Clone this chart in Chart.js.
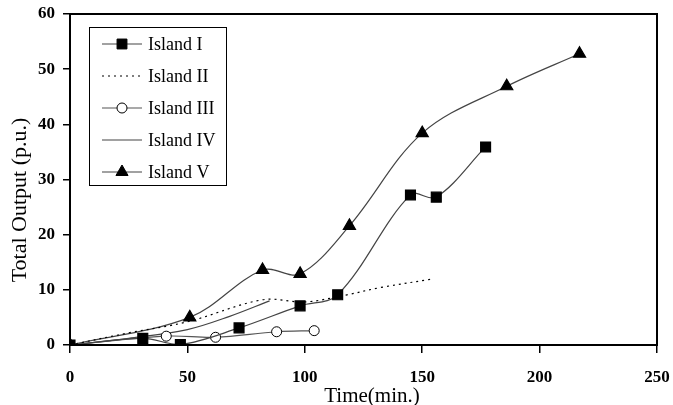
<!DOCTYPE html>
<html lang="en">
<head>
    <meta charset="UTF-8">
    <title>Total Output by Island</title>
    <script src="https://cdn.jsdelivr.net/npm/chart.js"></script>
    <style>
        body { margin: 0; background: #fff; }
        #wrap { width: 673px; height: 405px; }
    </style>
</head>
<body>
    <div id="wrap"><canvas id="myChart"></canvas></div>

    <script>
        // values (time in min., output in p.u.)
        const island1Time = [0, 31, 47, 72, 98, 114, 145, 156, 177];
        const island1Out  = [0, 1.2, 0.1, 3.1, 7.1, 9.1, 27.2, 26.8, 35.9];

        const island2Time = [0, 25, 50, 82, 100, 118, 132, 155];
        const island2Out  = [0, 2.2, 4.2, 8.2, 7.8, 9.1, 10.4, 12];

        const island3Time = [0, 41, 62, 88, 104];
        const island3Out  = [0, 1.6, 1.4, 2.4, 2.6];

        const island4Time = [0, 25, 50, 68, 85];
        const island4Out  = [0, 1.2, 2.8, 5.2, 8];

        const island5Time = [0, 51, 82, 98, 119, 150, 186, 217];
        const island5Out  = [0, 5, 13.6, 12.9, 21.6, 38.4, 46.9, 52.8];

        const xTicks = [0, 50, 100, 150, 200, 250];
        const yTicks = [0, 10, 20, 30, 40, 50, 60];

        const serif = "'Liberation Serif', 'Times New Roman', serif";

        function pts(xs, ys) {
            return xs.map((x, i) => ({ x: x, y: ys[i] }));
        }

        const datasets = [
            {
                label: 'Island I',
                data: pts(island1Time, island1Out),
                borderColor: '#444', borderWidth: 1.2,
                pointStyle: 'rect', pointRadius: 7,
                pointBackgroundColor: '#000', pointBorderColor: '#000'
            },
            {
                label: 'Island II',
                data: pts(island2Time, island2Out),
                borderColor: '#000', borderWidth: 1.2, borderDash: [2, 4],
                pointRadius: 0
            },
            {
                label: 'Island III',
                data: pts(island3Time, island3Out),
                borderColor: '#555', borderWidth: 1.2,
                pointStyle: 'circle', pointRadius: 5,
                pointBackgroundColor: '#fff', pointBorderColor: '#000', pointBorderWidth: 1
            },
            {
                label: 'Island IV',
                data: pts(island4Time, island4Out),
                borderColor: '#444', borderWidth: 1.2,
                pointRadius: 0
            },
            {
                label: 'Island V',
                data: pts(island5Time, island5Out),
                borderColor: '#444', borderWidth: 1.2,
                pointStyle: 'triangle', pointRadius: 7,
                pointBackgroundColor: '#000', pointBorderColor: '#000'
            }
        ];
        datasets.forEach(d => { d.tension = 0.35; d.fill = false; d.clip = 0; });

        // frame, legend box and axis titles
        const decor = {
            id: 'decor',
            afterDraw(chart) {
                const ctx = chart.ctx;
                const a = chart.chartArea;
                ctx.save();
                ctx.strokeStyle = '#000';
                ctx.lineWidth = 2;
                ctx.strokeRect(a.left, a.top, a.right - a.left, a.bottom - a.top);

                // legend
                const bx = 89, by = 27, bw = 137, bh = 158;
                ctx.fillStyle = '#fff';
                ctx.fillRect(bx, by, bw, bh);
                ctx.strokeStyle = '#000';
                ctx.lineWidth = 1;
                ctx.strokeRect(bx + 0.5, by + 0.5, bw, bh);
                ctx.font = '18px ' + serif;
                ctx.textBaseline = 'middle';
                chart.data.datasets.forEach((d, i) => {
                    const y = 44 + i * 32;
                    ctx.strokeStyle = d.borderColor;
                    ctx.lineWidth = d.borderWidth;
                    ctx.setLineDash(d.borderDash || []);
                    ctx.beginPath();
                    ctx.moveTo(102, y);
                    ctx.lineTo(142, y);
                    ctx.stroke();
                    ctx.setLineDash([]);
                    if (d.pointRadius > 0) {
                        ctx.fillStyle = d.pointBackgroundColor;
                        ctx.strokeStyle = d.pointBorderColor;
                        ctx.lineWidth = d.pointBorderWidth || 1;
                        Chart.helpers.drawPoint(ctx, {
                            pointStyle: d.pointStyle,
                            rotation: 0,
                            borderWidth: d.pointBorderWidth || 1,
                            radius: d.pointRadius
                        }, 122, y);
                    }
                    ctx.fillStyle = '#000';
                    ctx.textAlign = 'left';
                    ctx.fillText(d.label, 148, y + 1);
                });

                // axis titles
                ctx.fillStyle = '#000';
                ctx.textAlign = 'center';
                ctx.font = '21px ' + serif;
                ctx.fillText('Time(min.)', 372, 396);
                ctx.translate(20, 200);
                ctx.rotate(-Math.PI / 2);
                ctx.font = '22px ' + serif;
                ctx.fillText('Total Output (p.u.)', 0, 0);
                ctx.restore();
            }
        };

        const ctx = document.getElementById('myChart').getContext('2d');
        const myChart = new Chart(ctx, {
            type: 'line',
            data: { datasets: datasets },
            options: {
                responsive: true,
                maintainAspectRatio: false,
                animation: false,
                layout: { padding: { top: 14, right: 16, left: 0, bottom: 0 } },
                plugins: {
                    legend: { display: false },
                    tooltip: { enabled: false }
                },
                scales: {
                    x: {
                        type: 'linear',
                        min: 0, max: 250,
                        afterFit: s => { s.height = 60; s.paddingLeft = 0; s.paddingRight = 0; },
                        afterBuildTicks: s => { s.ticks = xTicks.map(v => ({ value: v })); },
                        grid: { drawOnChartArea: false, tickLength: 8, color: '#000', lineWidth: 1.5 },
                        border: { color: '#000', width: 2 },
                        ticks: {
                            color: '#000', padding: 14,
                            font: { family: serif, size: 17, weight: 'bold' }
                        }
                    },
                    y: {
                        min: 0, max: 60,
                        afterFit: s => { s.width = 70; s.paddingTop = 0; s.paddingBottom = 0; },
                        afterBuildTicks: s => { s.ticks = yTicks.map(v => ({ value: v })); },
                        grid: { drawOnChartArea: false, tickLength: 7, color: '#000', lineWidth: 1.5 },
                        border: { color: '#000', width: 2 },
                        ticks: {
                            color: '#000', padding: 8,
                            font: { family: serif, size: 17, weight: 'bold' }
                        }
                    }
                }
            },
            plugins: [decor]
        });
    </script>
</body>
</html>
